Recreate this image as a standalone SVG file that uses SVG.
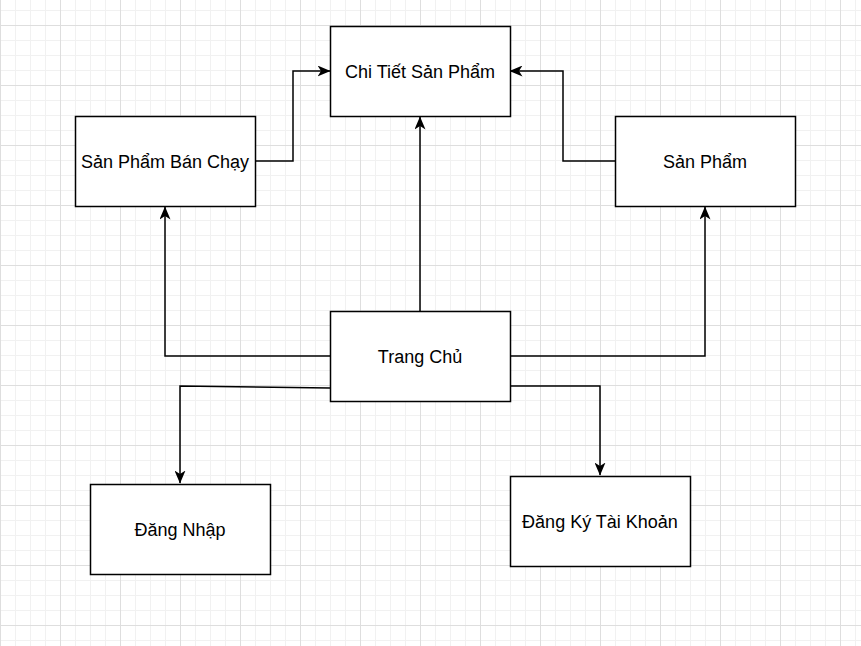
<svg xmlns="http://www.w3.org/2000/svg" width="861" height="646" viewBox="0 0 861 646">
  <style>
    .node rect { fill: #ffffff; stroke: #000000; stroke-width: 1.5; }
    .node text { font-family: "Liberation Sans", Arial, sans-serif; font-size: 18px; fill: #000000; text-anchor: middle; }
    .edge { fill: none; stroke: #000000; stroke-width: 1.5; marker-end: url(#arrow); }
  </style>
  <defs>
    <pattern id="grid" patternUnits="userSpaceOnUse" x="0" y="25" width="60" height="60">
      <rect x="15" y="0" width="1" height="60" fill="#f1f1f1"/>
      <rect x="30" y="0" width="1" height="60" fill="#f1f1f1"/>
      <rect x="45" y="0" width="1" height="60" fill="#f1f1f1"/>
      <rect x="0" y="15" width="60" height="1" fill="#f1f1f1"/>
      <rect x="0" y="30" width="60" height="1" fill="#f1f1f1"/>
      <rect x="0" y="45" width="60" height="1" fill="#f1f1f1"/>
      <rect x="0" y="0" width="1" height="60" fill="#dedede"/>
      <rect x="0" y="0" width="60" height="1" fill="#dedede"/>
    </pattern>
    <marker id="arrow" viewBox="0 0 13 11" refX="12.5" refY="5.5" markerWidth="13" markerHeight="11" markerUnits="userSpaceOnUse" orient="auto">
      <path d="M0,0 L13,5.5 L0,11 L3.5,5.5 Z" fill="#000000"/>
    </marker>
  </defs>
  <rect x="0" y="0" width="861" height="646" fill="#ffffff"/>
  <rect x="0" y="0" width="861" height="646" fill="url(#grid)"/>

  <g id="connectors">
    <path class="edge" d="M420,311 L420,117"/>
    <path class="edge" d="M330,356 L165,356 L165,207"/>
    <path class="edge" d="M510,356 L705,356 L705,207"/>
    <path class="edge" d="M255,161 L293,161 L293,71 L330,71"/>
    <path class="edge" d="M615,161 L563,161 L563,71 L510,71"/>
    <path class="edge" d="M330,388 L180,386 L180,483"/>
    <path class="edge" d="M510,386 L600,386 L600,475"/>
  </g>

  <g id="chi-tiet-san-pham" class="node">
    <rect x="330.5" y="26.5" width="180" height="90"/>
    <text x="420" y="77.5">Chi Tiết Sản Phẩm</text>
  </g>
  <g id="san-pham-ban-chay" class="node">
    <rect x="75.5" y="116.5" width="180" height="90"/>
    <text x="165" y="167.5">Sản Phẩm Bán Chạy</text>
  </g>
  <g id="san-pham" class="node">
    <rect x="615.5" y="116.5" width="180" height="90"/>
    <text x="705" y="167.5">Sản Phẩm</text>
  </g>
  <g id="trang-chu" class="node">
    <rect x="330.5" y="311.5" width="180" height="90"/>
    <text x="420" y="362.5">Trang Chủ</text>
  </g>
  <g id="dang-nhap" class="node">
    <rect x="90.5" y="484.5" width="180" height="90"/>
    <text x="180" y="535.5">Đăng Nhập</text>
  </g>
  <g id="dang-ky-tai-khoan" class="node">
    <rect x="510.5" y="476.5" width="180" height="90"/>
    <text x="600" y="527.5">Đăng Ký Tài Khoản</text>
  </g>
</svg>
